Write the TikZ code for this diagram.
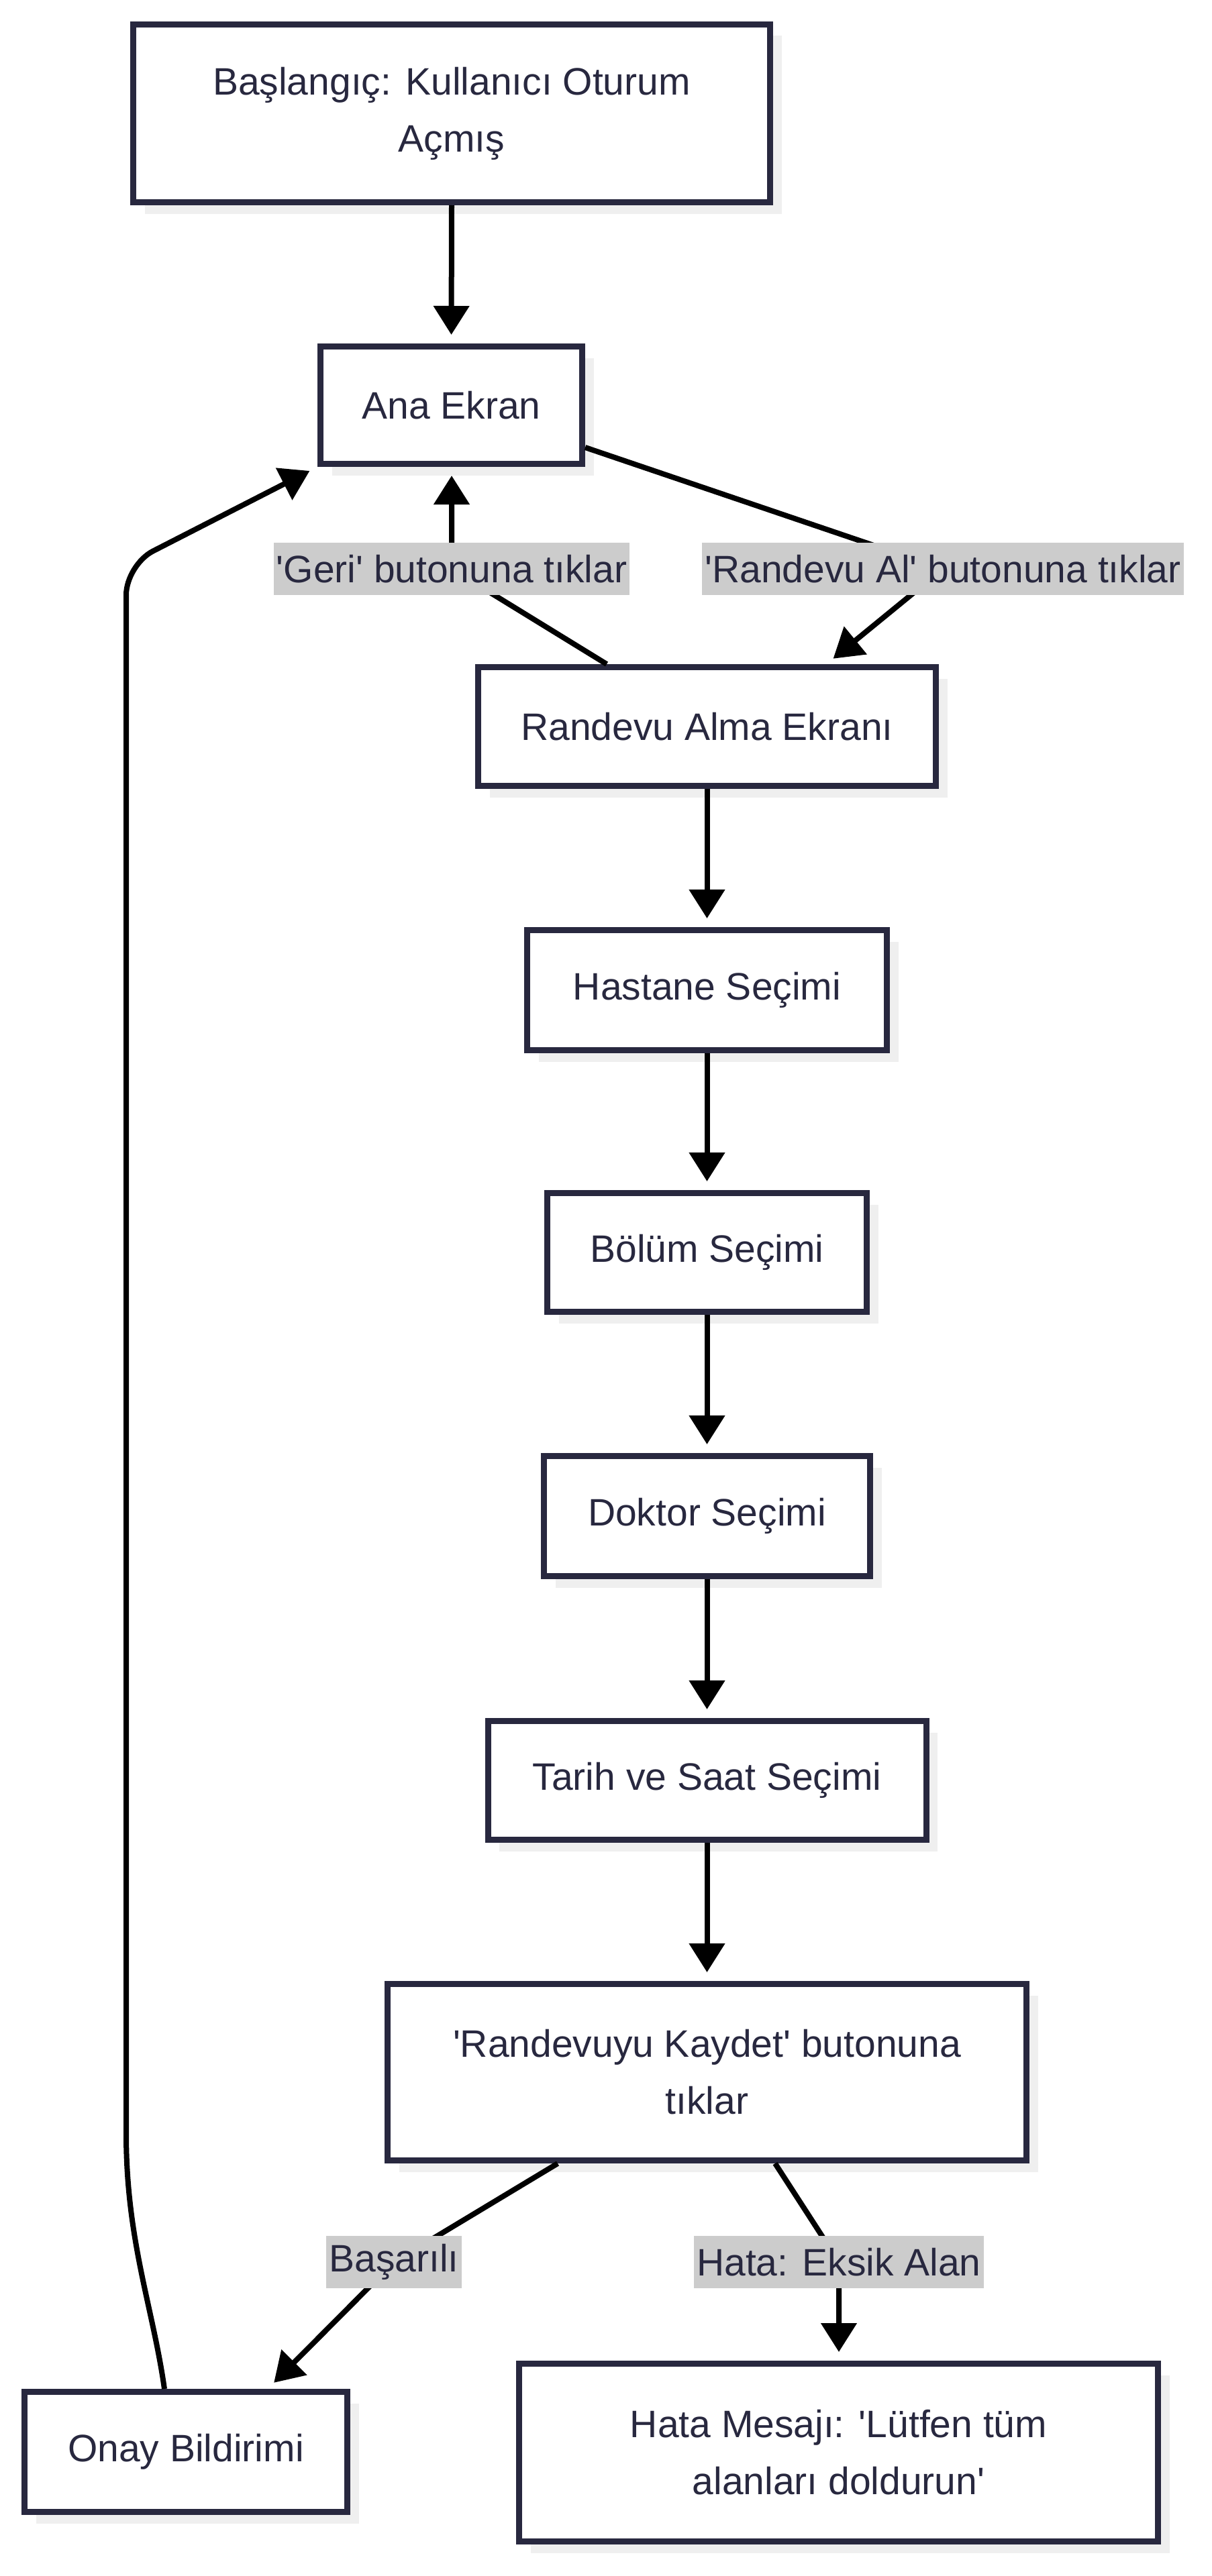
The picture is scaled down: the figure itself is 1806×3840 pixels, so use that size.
\documentclass[tikz,border=0pt]{standalone}
\usepackage{fontspec}
\setmainfont{Liberation Sans}
\usetikzlibrary{arrows.meta,shadows,calc}
\definecolor{navy}{HTML}{28283F}
\definecolor{labelbg}{HTML}{CCCCCC}
\definecolor{shadowc}{HTML}{EFEFEF}
\begin{document}
\begin{tikzpicture}[x=1pt,y=-1pt,
  box/.style={draw=navy, line width=9pt, fill=white, text=navy, align=center,
    font=\fontsize{57}{85}\selectfont, inner sep=0pt,
    general shadow={fill=shadowc, shadow xshift=17pt, shadow yshift=-17pt}},
  elabel/.style={fill=labelbg, text=navy, font=\fontsize{57}{68}\selectfont,
    inner xsep=4pt, inner ysep=0pt, minimum height=78pt},
  edge/.style={draw=black, line width=8pt, line join=round,
    -{Triangle[length=43pt,width=52pt]}, shorten >=13pt}]
\fill[white] (0,0) rectangle (1806,3840);
\useasboundingbox (0,0) rectangle (1806,3840);

% nodes
\node[box, minimum width=949pt, minimum height=265pt] (start) at (673,169) {Başlangıç: Kullanıcı Oturum\\Açmış};
\node[box, minimum width=390pt, minimum height=175pt] (ana) at (672.5,604) {Ana Ekran};
\node[box, minimum width=682pt, minimum height=177pt] (ram) at (1053.5,1083) {Randevu Alma Ekranı};
\node[box, minimum width=536pt, minimum height=179pt] (hastane) at (1053.5,1476) {Hastane Seçimi};
\node[box, minimum width=476pt, minimum height=177pt] (bolum) at (1053.5,1867) {Bölüm Seçimi};
\node[box, minimum width=486pt, minimum height=179pt] (doktor) at (1053.5,2260) {Doktor Seçimi};
\node[box, minimum width=653pt, minimum height=177pt] (tarih) at (1053.5,2654) {Tarih ve Saat Seçimi};
\node[box, minimum width=952pt, minimum height=263pt] (kaydet) at (1053.5,3089) {\textquotesingle Randevuyu Kaydet\textquotesingle{} butonuna\\tıklar};
\node[box, minimum width=481pt, minimum height=179pt] (onay) at (277,3655) {Onay Bildirimi};
\node[box, minimum width=952pt, minimum height=265pt] (hata) at (1249.5,3656) {Hata Mesajı: \textquotesingle Lütfen tüm\\alanları doldurun\textquotesingle};

% label positions
\coordinate (l1) at (673,848);
\coordinate (l2) at (1405,848);
\coordinate (l3) at (587,3372);
\coordinate (l4) at (1250,3372);

% edges
\draw[edge] (start.south) -- (ana.north);
\draw[edge] ($(ana.south east)+(0,-29)$) -- (l2) -- ($(ram.north)+(178,0)$);
\draw[edge] ($(ram.north west)+(196,0)$) -- (l1) -- (ana.south -| l1);
\draw[edge] (ram.south) -- (hastane.north);
\draw[edge] (hastane.south) -- (bolum.north);
\draw[edge] (bolum.south) -- (doktor.north);
\draw[edge] (doktor.south) -- (tarih.north);
\draw[edge] (tarih.south) -- (kaydet.north);
\draw[edge] ($(kaydet.south west)+(258,0)$) -- (l3) -- ($(onay.north)+(122,0)$);
\draw[edge] ($(kaydet.south)+(101.5,0)$) -- (l4) -- (hata.north -| l4);
\draw[edge] ($(onay.north)+(-32,0)$) .. controls (228,3440) and (188,3340) .. (188,3180)
   {[rounded corners=45pt] -- (188,842) -- (ana.south west)};

% labels
\node[elabel] (lab1) at (l1) {\textquotesingle Geri\textquotesingle{} butonuna tıklar};
\node[elabel] (lab2) at (l2) {\textquotesingle Randevu Al\textquotesingle{} butonuna tıklar};
\node[elabel] (lab3) at (l3) {Başarılı};
\node[elabel] (lab4) at (l4) {Hata: Eksik Alan};
\end{tikzpicture}
\end{document}
